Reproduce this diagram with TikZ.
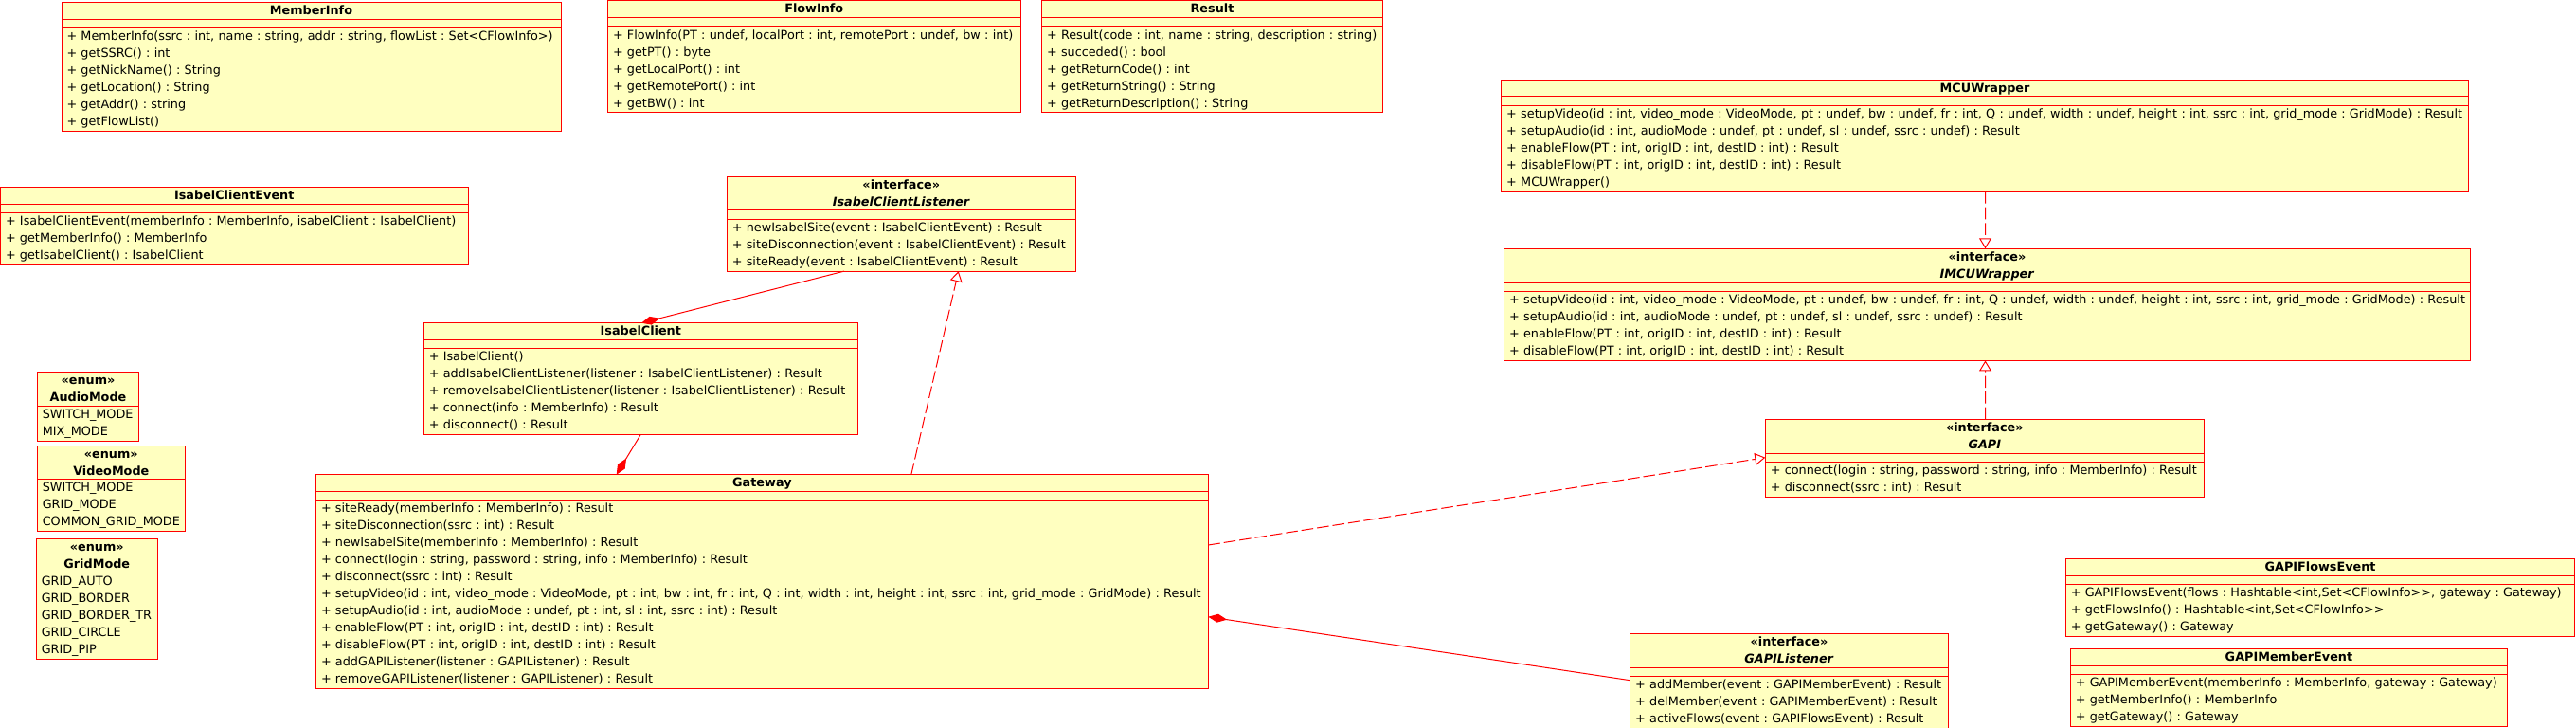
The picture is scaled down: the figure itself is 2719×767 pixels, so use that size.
\documentclass[tikz,border=0pt]{standalone}
\usepackage{fontspec}
\setmainfont{DejaVu Sans}
\usetikzlibrary{shapes.multipart,arrows.meta,calc}

\definecolor{umlfill}{RGB}{255,255,192}
\definecolor{umlred}{RGB}{255,0,0}

% one row of a compartment, 18px high
\newcommand\umlstrut{\vrule width0pt height6.3pt depth2.7pt\relax}
\newcommand\ml[1]{\hbox{\umlstrut#1}\par}
\newcommand\hd[1]{\hbox to\hsize{\hss\vrule width0pt height6.3pt depth2.1pt\relax#1\hss}\par}
\newcommand\umlgap{\hbox{\vrule width0pt height4.15pt depth0pt\relax}\par}

\tikzset{
  umlclass/.style={rectangle split, rectangle split parts=3, draw=umlred, fill=umlfill,
    line width=0.5pt, anchor=north west, inner xsep=2.75pt, inner ysep=0pt, outer sep=0pt,
    text width=#1, font=\fontsize{6.4}{9}\selectfont\frenchspacing},
  umlenum/.style={umlclass=#1, rectangle split parts=2},
  comp/.style={draw=umlred, line width=0.5pt, {Diamond[length=10pt,width=4.5pt,fill=umlred]}-},
  realize/.style={draw=umlred, line width=0.5pt, dash pattern=on 6.3pt off 2pt,
    -{Triangle[open,length=5.5pt,width=6.5pt]}}
}

\begin{document}
\frenchspacing
\begin{tikzpicture}[x=0.5pt,y=-0.5pt]
	\path[fill=white,use as bounding box] (0,0) rectangle (2719,767);

	%Class: MemberInfo
	\node[umlclass=258pt] (memberinfo) at (65,2.5) {\hd{\textbf{MemberInfo}}
		\nodepart{two}\umlgap
		\nodepart{three}\ml{+ MemberInfo(ssrc : int, name : string, addr : string, flowList : Set<CFlowInfo>)}
		\ml{+ getSSRC() : int}\ml{+ getNickName() : String}\ml{+ getLocation() : String}
		\ml{+ getAddr() : string}\ml{+ getFlowList()}};
	%Class: FlowInfo
	\node[umlclass=212.25pt] (flowinfo) at (641.5,0.8) {\hd{\textbf{FlowInfo}}
		\nodepart{two}\umlgap
		\nodepart{three}\ml{+ FlowInfo(PT : undef, localPort : int, remotePort : undef, bw : int)}
		\ml{+ getPT() : byte}\ml{+ getLocalPort() : int}\ml{+ getRemotePort() : int}\ml{+ getBW() : int}};
	%Class: Result
	\node[umlclass=174.5pt] (result) at (1099.5,0.8) {\hd{\textbf{Result}}
		\nodepart{two}\umlgap
		\nodepart{three}\ml{+ Result(code : int, name : string, description : string)}
		\ml{+ succeded() : bool}\ml{+ getReturnCode() : int}\ml{+ getReturnString() : String}
		\ml{+ getReturnDescription() : String}};
	%Class: MCUWrapper
	\node[umlclass=504.85pt] (mcuwrapper) at (1584.7,84) {\hd{\textbf{MCUWrapper}}
		\nodepart{two}\umlgap
		\nodepart{three}\ml{+ setupVideo(id : int, video\_mode : VideoMode, pt : undef, bw : undef, fr : int, Q : undef, width : undef, height : int, ssrc : int, grid\_mode : GridMode) : Result}
		\ml{+ setupAudio(id : int, audioMode : undef, pt : undef, sl : undef, ssrc : undef) : Result}
		\ml{+ enableFlow(PT : int, origID : int, destID : int) : Result}
		\ml{+ disableFlow(PT : int, origID : int, destID : int) : Result}\ml{+ MCUWrapper()}};
	%Interface: IMCUWrapper
	\node[umlclass=504.4pt] (imcuwrapper) at (1587.6,262.3) {\hd{\textbf{«interface»}}\hd{\textbf{\textit{IMCUWrapper}}}
		\nodepart{two}\umlgap
		\nodepart{three}\ml{+ setupVideo(id : int, video\_mode : VideoMode, pt : undef, bw : undef, fr : int, Q : undef, width : undef, height : int, ssrc : int, grid\_mode : GridMode) : Result}
		\ml{+ setupAudio(id : int, audioMode : undef, pt : undef, sl : undef, ssrc : undef) : Result}
		\ml{+ enableFlow(PT : int, origID : int, destID : int) : Result}
		\ml{+ disableFlow(PT : int, origID : int, destID : int) : Result}};
	%Class: IsabelClientEvent
	\node[umlclass=241.25pt] (isabelclientevent) at (0.5,197.3) {\hd{\textbf{IsabelClientEvent}}
		\nodepart{two}\umlgap
		\nodepart{three}\ml{+ IsabelClientEvent(memberInfo : MemberInfo, isabelClient : IsabelClient)}
		\ml{+ getMemberInfo() : MemberInfo}\ml{+ getIsabelClient() : IsabelClient}};
	%Interface: IsabelClientListener
	\node[umlclass=178.5pt] (isabelclientlistener) at (767.3,186) {\hd{\textbf{«interface»}}\hd{\textbf{\textit{IsabelClientListener}}}
		\nodepart{two}\umlgap
		\nodepart{three}\ml{+ newIsabelSite(event : IsabelClientEvent) : Result}
		\ml{+ siteDisconnection(event : IsabelClientEvent) : Result}
		\ml{+ siteReady(event : IsabelClientEvent) : Result}};
	%Class: IsabelClient
	\node[umlclass=223.5pt] (isabelclient) at (447.3,340.7) {\hd{\textbf{IsabelClient}}
		\nodepart{two}\umlgap
		\nodepart{three}\ml{+ IsabelClient()}
		\ml{+ addIsabelClientListener(listener : IsabelClientListener) : Result}
		\ml{+ removeIsabelClientListener(listener : IsabelClientListener) : Result}
		\ml{+ connect(info : MemberInfo) : Result}\ml{+ disconnect() : Result}};
	%Enums
	\node[umlenum=48.2pt] (audiomode) at (39.3,392.3) {\hd{\textbf{«enum»}}\hd{\textbf{AudioMode}}
		\nodepart{two}\ml{SWITCH\_MODE}\ml{MIX\_MODE}};
	\node[umlenum=72.5pt] (videomode) at (39.3,470) {\hd{\textbf{«enum»}}\hd{\textbf{VideoMode}}
		\nodepart{two}\ml{SWITCH\_MODE}\ml{GRID\_MODE}\ml{COMMON\_GRID\_MODE}};
	\node[umlenum=58.5pt] (gridmode) at (38.3,568.3) {\hd{\textbf{«enum»}}\hd{\textbf{GridMode}}
		\nodepart{two}\ml{GRID\_AUTO}\ml{GRID\_BORDER}\ml{GRID\_BORDER\_TR}\ml{GRID\_CIRCLE}\ml{GRID\_PIP}};
	%Class: Gateway
	\node[umlclass=465.4pt] (gateway) at (333.5,500.7) {\hd{\textbf{Gateway}}
		\nodepart{two}\umlgap
		\nodepart{three}\ml{+ siteReady(memberInfo : MemberInfo) : Result}
		\ml{+ siteDisconnection(ssrc : int) : Result}
		\ml{+ newIsabelSite(memberInfo : MemberInfo) : Result}
		\ml{+ connect(login : string, password : string, info : MemberInfo) : Result}
		\ml{+ disconnect(ssrc : int) : Result}
		\ml{+ setupVideo(id : int, video\_mode : VideoMode, pt : int, bw : int, fr : int, Q : int, width : int, height : int, ssrc : int, grid\_mode : GridMode) : Result}
		\ml{+ setupAudio(id : int, audioMode : undef, pt : int, sl : int, ssrc : int) : Result}
		\ml{+ enableFlow(PT : int, origID : int, destID : int) : Result}
		\ml{+ disableFlow(PT : int, origID : int, destID : int) : Result}
		\ml{+ addGAPIListener(listener : GAPIListener) : Result}
		\ml{+ removeGAPIListener(listener : GAPIListener) : Result}};
	%Interface: GAPI
	\node[umlclass=226pt] (gapi) at (1863.3,442.3) {\hd{\textbf{«interface»}}\hd{\textbf{\textit{GAPI}}}
		\nodepart{two}\umlgap
		\nodepart{three}\ml{+ connect(login : string, password : string, info : MemberInfo) : Result}
		\ml{+ disconnect(ssrc : int) : Result}};
	%Interface: GAPIListener
	\node[umlclass=162.3pt] (gapilistener) at (1720.7,668.3) {\hd{\textbf{«interface»}}\hd{\textbf{\textit{GAPIListener}}}
		\nodepart{two}\umlgap
		\nodepart{three}\ml{+ addMember(event : GAPIMemberEvent) : Result}
		\ml{+ delMember(event : GAPIMemberEvent) : Result}
		\ml{+ activeFlows(event : GAPIFlowsEvent) : Result}};
	%Class: GAPIFlowsEvent
	\node[umlclass=263.3pt] (gapiflowsevent) at (2180.3,589.3) {\hd{\textbf{GAPIFlowsEvent}}
		\nodepart{two}\umlgap
		\nodepart{three}\ml{+ GAPIFlowsEvent(flows : Hashtable<int,Set<CFlowInfo>\kern0pt>, gateway : Gateway)}
		\ml{+ getFlowsInfo() : Hashtable<int,Set<CFlowInfo>\kern0pt>}\ml{+ getGateway() : Gateway}};
	%Class: GAPIMemberEvent
	\node[umlclass=225.15pt] (gapimemberevent) at (2185.3,684.3) {\hd{\textbf{GAPIMemberEvent}}
		\nodepart{two}\umlgap
		\nodepart{three}\ml{+ GAPIMemberEvent(memberInfo : MemberInfo, gateway : Gateway)}
		\ml{+ getMemberInfo() : MemberInfo}\ml{+ getGateway() : Gateway}};

	%Composition lines
	\draw[comp] ($(isabelclient.north west)+(229.7,0)$) -- ($(isabelclientlistener.south west)+(123.7,0)$);
	\draw[comp] ($(gateway.north west)+(317.2,0)$) -- ($(isabelclient.south west)+(228.7,0)$);
	\draw[comp] ($(gateway.north east)+(0,150)$) -- ($(gapilistener.north west)+(0,49.4)$);
	%Realization lines
	\draw[realize] ($(gateway.north west)+(628.3,0)$) -- ($(isabelclientlistener.south west)+(244.4,0)$);
	\draw[realize] ($(gateway.north east)+(0,74.3)$) -- ($(gapi.north west)+(0,40.4)$);
	\draw[realize] ($(mcuwrapper.south west)+(510.8,0)$) -- ($(imcuwrapper.north west)+(507.9,0)$);
	\draw[realize] ($(gapi.north west)+(232.3,0)$) -- ($(imcuwrapper.south west)+(507.9,0)$);
\end{tikzpicture}
\end{document}
